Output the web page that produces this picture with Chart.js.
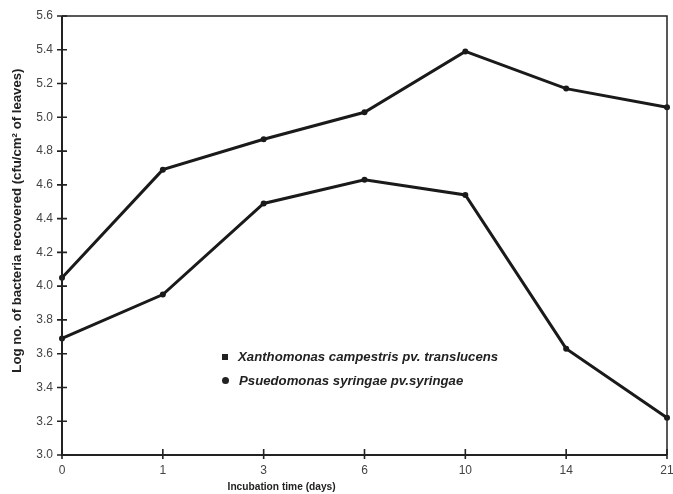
<!DOCTYPE html>
<html><head><meta charset="utf-8">
<script src="https://cdn.jsdelivr.net/npm/chart.js@4/dist/chart.umd.min.js"></script>
<style>
html,body{margin:0;padding:0;background:#fff;}
#wrap{position:relative;width:673px;height:494px;}
#legend{position:absolute;left:222px;top:345px;font-family:"Liberation Sans",Arial,sans-serif;font-size:13.2px;font-style:italic;font-weight:bold;color:#222;line-height:24px;}
#legend .m{display:inline-block;background:#222;margin-right:10px;vertical-align:middle;position:relative;top:-1px;}
</style></head>
<body><div id="wrap"><canvas id="c" width="673" height="494"></canvas>
<div id="legend"></div></div>
<script>
const categories = ["0","1","3","6","10","14","21"];
const xanthomonas = [4.05, 4.69, 4.87, 5.03, 5.39, 5.17, 5.06];
const pseudomonas = [3.69, 3.95, 4.49, 4.63, 4.54, 3.63, 3.22];
const seriesNames = ["Xanthomonas campestris pv. translucens", "Psuedomonas syringae pv.syringae"];
const yTicks = [3.0,3.2,3.4,3.6,3.8,4.0,4.2,4.4,4.6,4.8,5.0,5.2,5.4,5.6];
const xTitle = 'Incubation time (days)';
const yTitle = 'Log no. of bacteria recovered (cfu/cm² of leaves)';

document.getElementById('legend').innerHTML =
  '<div><span class="m" style="width:6px;height:6px"></span>' + seriesNames[0] + '</div>' +
  '<div><span class="m" style="width:7px;height:7px;border-radius:50%"></span>' + seriesNames[1] + '</div>';

const FF = '"Liberation Sans", Arial, sans-serif';
const frame = {
  id:'frame',
  afterDraw(chart){
    const {ctx, chartArea:a, scales} = chart;
    ctx.save();
    ctx.strokeStyle='#222';
    ctx.lineWidth=1.5;
    ctx.beginPath();
    ctx.moveTo(a.left,a.top);ctx.lineTo(a.right,a.top);ctx.lineTo(a.right,a.bottom);
    ctx.stroke();
    ctx.lineWidth=2;
    ctx.beginPath();
    ctx.moveTo(a.left,a.top);ctx.lineTo(a.left,a.bottom);ctx.lineTo(a.right,a.bottom);
    ctx.stroke();
    ctx.lineWidth=1.6;
    ctx.beginPath();
    scales.y.ticks.forEach((t,i)=>{const p=scales.y.getPixelForTick(i);ctx.moveTo(a.left-5,p);ctx.lineTo(a.left+5,p);});
    scales.x.ticks.forEach((t,i)=>{const p=scales.x.getPixelForTick(i);ctx.moveTo(p,a.bottom+4);ctx.lineTo(p,a.bottom-6);});
    ctx.stroke();
    // axis titles
    ctx.fillStyle='#222';
    ctx.textAlign='center';ctx.textBaseline='middle';
    ctx.font='bold 10.2px '+FF;
    ctx.fillText(xTitle, a.left + 0.363*(a.right-a.left), 487);
    ctx.translate(17, a.top + 0.466*(a.bottom-a.top));
    ctx.rotate(-Math.PI/2);
    ctx.font='bold 13.2px '+FF;
    ctx.fillText(yTitle, 0, 0);
    ctx.restore();
  }
};

new Chart(document.getElementById('c'), {
  type:'line',
  data:{labels:categories, datasets:[
    {label:seriesNames[0], data:xanthomonas, borderColor:'#1a1a1a', backgroundColor:'#1a1a1a', borderWidth:3, pointRadius:3, pointBorderWidth:0, pointStyle:'circle', tension:0, clip:false},
    {label:seriesNames[1], data:pseudomonas, borderColor:'#1a1a1a', backgroundColor:'#1a1a1a', borderWidth:3, pointRadius:3, pointBorderWidth:0, pointStyle:'circle', tension:0, clip:false}
  ]},
  options:{
    responsive:false, animation:false,
    layout:{padding:{top:16,right:6,left:0,bottom:0}},
    plugins:{legend:{display:false}, tooltip:{enabled:false}},
    scales:{
      x:{offset:false, grid:{display:false,drawTicks:false}, border:{display:false},
         afterFit(s){s.height=39;s.paddingLeft=0;s.paddingRight=0;},
         ticks:{color:'#444',padding:8,font:{family:FF,size:12},maxRotation:0,autoSkip:false}},
      y:{min:3.0,max:5.6, grid:{display:false,drawTicks:false}, border:{display:false},
         afterFit(s){s.width=62;s.paddingTop=0;s.paddingBottom=0;},
         afterBuildTicks(s){s.ticks=yTicks.map(v=>({value:v}));},
         ticks:{color:'#444',padding:9,font:{family:FF,size:12},callback:v=>Number(v).toFixed(1)}}
    }
  },
  plugins:[frame]
});
</script></body></html>
